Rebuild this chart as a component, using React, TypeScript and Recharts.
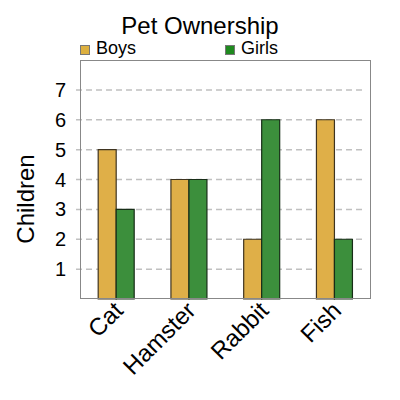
import { BarChart, Bar, XAxis, YAxis, CartesianGrid } from "recharts";

const pets = ["Cat", "Hamster", "Rabbit", "Fish"];
const boys = [5, 4, 2, 6];
const girls = [3, 4, 6, 2];
const yTicks = [1, 2, 3, 4, 5, 6, 7];

const data = pets.map((pet, i) => ({ pet, boys: boys[i], girls: girls[i] }));

const font = "Liberation Sans, Arial, sans-serif";

function PetTick({ x, y, payload }: any) {
  return (
    <g transform={`translate(${x + 8},${y + 5})`}>
      <text
        transform="rotate(-45)"
        textAnchor="end"
        fontSize={24}
        fontFamily={font}
        fill="#000"
      >
        {payload.value}
      </text>
    </g>
  );
}

// grid lines start a little left of the frame and stop short of its right edge
function GridLine(props: any) {
  const { x1, x2, y1, y2 } = props;
  return (
    <line
      x1={x1 - 4}
      x2={x2 - 9}
      y1={y1}
      y2={y2}
      stroke="#c0c0c0"
      strokeDasharray="6 4"
      strokeWidth={1.5}
      fill="none"
    />
  );
}

export default function App() {
  return (
    <div style={{ position: "absolute", left: 0, top: 0, width: 400, height: 400, background: "#fff", fontFamily: font }}>
      <div style={{ position: "absolute", top: 12, left: 0, width: 400, textAlign: "center", fontSize: 24, lineHeight: "28px" }}>
        Pet Ownership
      </div>
      <div style={{ position: "absolute", top: 45, left: 80, width: 10, height: 10, background: "#ddb03f", border: "1px solid #777", boxSizing: "border-box" }} />
      <div style={{ position: "absolute", top: 37, left: 96, fontSize: 18, lineHeight: "22px" }}>Boys</div>
      <div style={{ position: "absolute", top: 45, left: 225, width: 10, height: 10, background: "#1f8a1f", border: "1px solid #777", boxSizing: "border-box" }} />
      <div style={{ position: "absolute", top: 37, left: 241, fontSize: 18, lineHeight: "22px" }}>Girls</div>
      <div style={{ position: "absolute", left: 26, top: 199, transform: "translate(-50%, -50%) rotate(-90deg)", fontSize: 24, whiteSpace: "nowrap" }}>
        Children
      </div>
      <BarChart
        width={400}
        height={400}
        data={data}
        margin={{ top: 60, right: 29, bottom: 0, left: 0 }}
        barCategoryGap="25%"
        barGap={0}
      >
        <CartesianGrid
          horizontal={(p: any) => <GridLine key={p.key} {...p} />}
          vertical={false}
          horizontalValues={yTicks}
          stroke="#c0c0c0"
        />
        <XAxis
          dataKey="pet"
          height={101}
          tick={<PetTick />}
          tickLine={false}
          axisLine={false}
          interval={0}
        />
        <YAxis
          width={80}
          domain={[0, 8]}
          ticks={yTicks}
          tickLine={false}
          tickMargin={8}
          tick={{ fontSize: 20, fill: "#000", fontFamily: font }}
          axisLine={false}
        />
        <Bar dataKey="boys" fill="#dfaf48" stroke="#3f3420" strokeWidth={1.2} isAnimationActive={false} />
        <Bar dataKey="girls" fill="#3c8f3c" stroke="#172d17" strokeWidth={1.2} isAnimationActive={false} />
      </BarChart>
      <div style={{ position: "absolute", left: 80, top: 60, width: 291, height: 239, border: "1.5px solid #888", boxSizing: "border-box", pointerEvents: "none" }} />
    </div>
  );
}
